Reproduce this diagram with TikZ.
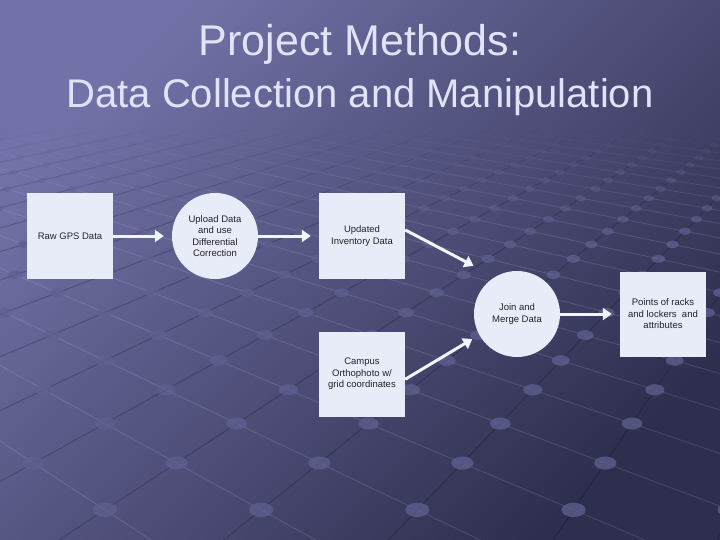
\documentclass[tikz,border=0pt]{standalone}
\usepackage{fontspec}
\setmainfont{Liberation Sans}
\usepackage{tikz}
\usetikzlibrary{arrows.meta}
\usepackage{xcolor}
\definecolor{bgtop}{RGB}{114,114,168}
\definecolor{bgbot}{RGB}{46,46,78}
\definecolor{boxfill}{RGB}{232,236,248}
\definecolor{boxtext}{RGB}{35,35,40}
\definecolor{arrowcol}{RGB}{242,244,252}
\definecolor{titlecol}{RGB}{226,226,248}
\definecolor{dotcol}{RGB}{96,96,145}

\begin{document}
\begin{tikzpicture}[
    x=1pt, y=-1pt,
    databox/.style={fill=boxfill, text=boxtext, minimum width=86pt, minimum height=85pt,
      inner sep=2pt, align=center, font=\fontsize{9.5}{11.5}\selectfont},
    datacirc/.style={circle, fill=boxfill, text=boxtext, minimum size=86pt,
      inner sep=0pt, align=center, font=\fontsize{9.5}{11.5}\selectfont},
    flow/.style={draw=arrowcol, line width=3pt, -{Triangle[length=9pt,width=12pt]},
      shorten >=8pt},
    titletext/.style={text=titlecol, font=\fontsize{40}{48}\selectfont},
    riseline/.style={draw=black, line width=.9pt},
    fallline/.style={draw=white, line width=.9pt}
  ]
  \useasboundingbox (0,0) rectangle (720,540);

  % фон
  \shade[top color=bgtop, bottom color=bgbot, shading angle=45] (0,0) rectangle (720,540);

  % сетка в перспективе
  \begin{scope}
    \clip (0,0) rectangle (720,540);
    \foreach \k in {-1,...,24}{
      \pgfmathsetmacro\zk{1.812+0.168*\k}
      \pgfmathsetmacro\zn{1.812+0.168*(\k+1)}
      \pgfmathsetmacro\yk{-42+1000/\zk}
      \pgfmathsetmacro\yn{-42+1000/\zn}
      \pgfmathsetmacro\op{max(0,min(1,(24-\k)/14))}
      \foreach \j in {-4,...,14}{
        \pgfmathsetmacro\X{\j+mod(\k,2)/2}
        \pgfmathsetmacro\xk{105+283*\X/\zk}
        \pgfmathsetmacro\xr{105+283*(\X+0.5)/\zn}
        \pgfmathsetmacro\xf{105+283*(\X-0.5)/\zn}
        \draw[riseline, draw opacity=.22*\op] (\xk,\yk) -- (\xr,\yn);
        \draw[fallline, draw opacity=.12*\op] (\xk,\yk) -- (\xf,\yn);
        \fill[dotcol, fill opacity=.75*\op] (\xk,\yk) ellipse ({22/\zk} and {13/\zk});
      }
    }
  \end{scope}

  % заголовок
  \node[titletext, font=\fontsize{43}{50}\selectfont] (t1) at (360,44) {Project Methods:};
  \node[titletext] (t2) at (360,97) {Data Collection and Manipulation};

  % блоки
  \node[databox] (raw) at (70,236) {Raw GPS Data};
  \node[datacirc] (upl) at (215,236) {Upload Data\\and use\\Differential\\Correction};
  \node[databox] (upd) at (362,236) {Updated\\Inventory Data};
  \node[datacirc] (join) at (517,314) {Join and\\Merge Data};
  \node[databox] (pts) at (663,314) {Points of racks\\and lockers\ \ and\\attributes};
  \node[databox] (camp) at (362,374) {Campus\\Orthophoto w/\\grid coordinates};

  % стрелки
  \draw[flow] (raw) -- (upl);
  \draw[flow] (upl) -- (upd);
  \draw[flow, shorten >=24pt] (upd.8) -- (join.121);
  \draw[flow] (camp.-7) -- (join.209);
  \draw[flow] (join) -- (pts);
\end{tikzpicture}
\end{document}
